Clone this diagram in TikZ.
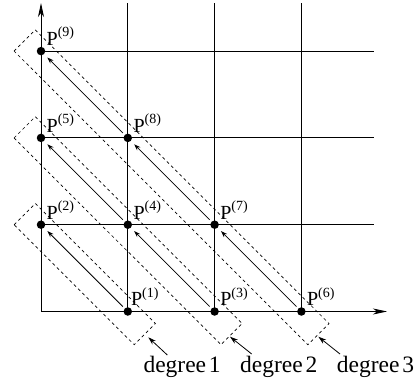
\documentclass[tikz,border=0pt]{standalone}
\usepackage{fontspec}
\setmainfont{Liberation Serif}
\usetikzlibrary{arrows.meta,calc}
\newcommand{\plab}[1]{P\raisebox{8.5pt}{\fontsize{14}{14}\selectfont(#1)}}
\begin{document}
\begin{tikzpicture}[x=1pt,y=-1pt,
  gridline/.style={line width=0.9pt},
  axisline/.style={line width=0.9pt,-{Stealth[length=14pt,width=6pt,inset=4pt]}},
  dot/.style={circle,fill,inner sep=0pt,minimum size=8.5pt},
  plabel/.style={anchor=base west,inner sep=0pt,font=\fontsize{20}{20}\selectfont},
  stepline/.style={line width=0.8pt,-{Stealth[length=6.5pt,width=4.5pt]},shorten <=7pt,shorten >=9pt},
  dashbox/.style={line width=0.7pt,dash pattern=on 3pt off 3pt},
  deglabel/.style={anchor=base west,inner sep=0pt,font=\fontsize{23.5}{24}\selectfont},
  pointer/.style={line width=0.8pt,-{Stealth[length=8pt,width=5pt]}}]

\useasboundingbox (0,0) rectangle (420,385);

% frame coordinates
\coordinate (O) at (41,311.5);
\coordinate (XE) at (387,311.5);
\coordinate (YE) at (41,3);
\coordinate (T1) at (127.8,3);
\coordinate (T2) at (214.6,3);
\coordinate (T3) at (301.4,3);
\coordinate (B1) at (127.8,311.5);
\coordinate (B2) at (214.6,311.5);
\coordinate (B3) at (301.4,311.5);
\coordinate (L1) at (41,224.7);
\coordinate (L2) at (41,137.9);
\coordinate (L3) at (41,51.1);
\coordinate (R1) at (374,224.7);
\coordinate (R2) at (374,137.9);
\coordinate (R3) at (374,51.1);

% grid
\draw[gridline] (B1) -- (T1);
\draw[gridline] (B2) -- (T2);
\draw[gridline] (B3) -- (T3);
\draw[gridline] (L1) -- (R1);
\draw[gridline] (L2) -- (R2);
\draw[gridline] (L3) -- (R3);

% axes
\draw[axisline] (O) -- (XE);
\draw[axisline] (O) -- (YE);

% points
\node[dot] (P1) at (127.8,311.5) {};
\node[dot] (P2) at (41,224.7) {};
\node[dot] (P3) at (214.6,311.5) {};
\node[dot] (P4) at (127.8,224.7) {};
\node[dot] (P5) at (41,137.9) {};
\node[dot] (P6) at (301.4,311.5) {};
\node[dot] (P7) at (214.6,224.7) {};
\node[dot] (P8) at (127.8,137.9) {};
\node[dot] (P9) at (41,51.1) {};

% labels
\node[plabel] (N1) at ($(P1.center)+(3,-5.7)$) {\plab{1}};
\node[plabel] (N2) at ($(P2.center)+(5.5,-5.7)$) {\plab{2}};
\node[plabel] (N3) at ($(P3.center)+(5.5,-5.7)$) {\plab{3}};
\node[plabel] (N4) at ($(P4.center)+(5.5,-5.7)$) {\plab{4}};
\node[plabel] (N5) at ($(P5.center)+(5.5,-5.7)$) {\plab{5}};
\node[plabel] (N6) at ($(P6.center)+(5.5,-5.7)$) {\plab{6}};
\node[plabel] (N7) at ($(P7.center)+(5.5,-5.7)$) {\plab{7}};
\node[plabel] (N8) at ($(P8.center)+(5.5,-5.7)$) {\plab{8}};
\node[plabel] (N9) at ($(P9.center)+(5.5,-5.7)$) {\plab{9}};

% step arrows
\draw[stepline] (P1.center) -- (P2.center);
\draw[stepline] (P3.center) -- (P4.center);
\draw[stepline] (P4.center) -- (P5.center);
\draw[stepline] (P6.center) -- (P7.center);
\draw[stepline] (P7.center) -- (P8.center);
\draw[stepline] (P8.center) -- (P9.center);

% dashed boxes
\draw[dashbox] ($(P2.center)+(-26.9,0)$) -- ($(P2.center)+(-5.7,-21.2)$)
  -- ($(P1.center)+(27.6,12)$) -- ($(P1.center)+(6.4,33.2)$) -- cycle;
\draw[dashbox] ($(P5.center)+(-26.9,0)$) -- ($(P5.center)+(-5.7,-21.2)$)
  -- ($(P3.center)+(27.6,12)$) -- ($(P3.center)+(6.4,33.2)$) -- cycle;
\draw[dashbox] ($(P9.center)+(-26.9,0)$) -- ($(P9.center)+(-5.7,-21.2)$)
  -- ($(P6.center)+(27.6,12)$) -- ($(P6.center)+(6.4,33.2)$) -- cycle;

% degree labels
\node[deglabel] (D1) at (143.3,372.7) {degree\hspace{0.12em}1};
\node[deglabel] (D2) at (240,372.7) {degree\hspace{0.12em}2};
\node[deglabel] (D3) at (336.7,372.7) {degree\hspace{0.12em}3};
\coordinate (A1) at (167.3,355);
\coordinate (A2) at (251.7,354);
\coordinate (A3) at (340,354);
\coordinate (E1) at (148.3,337.3);
\coordinate (E2) at (230,336.7);
\coordinate (E3) at (318.3,336.7);
\draw[pointer] (A1) -- (E1);
\draw[pointer] (A2) -- (E2);
\draw[pointer] (A3) -- (E3);
\end{tikzpicture}
\end{document}
